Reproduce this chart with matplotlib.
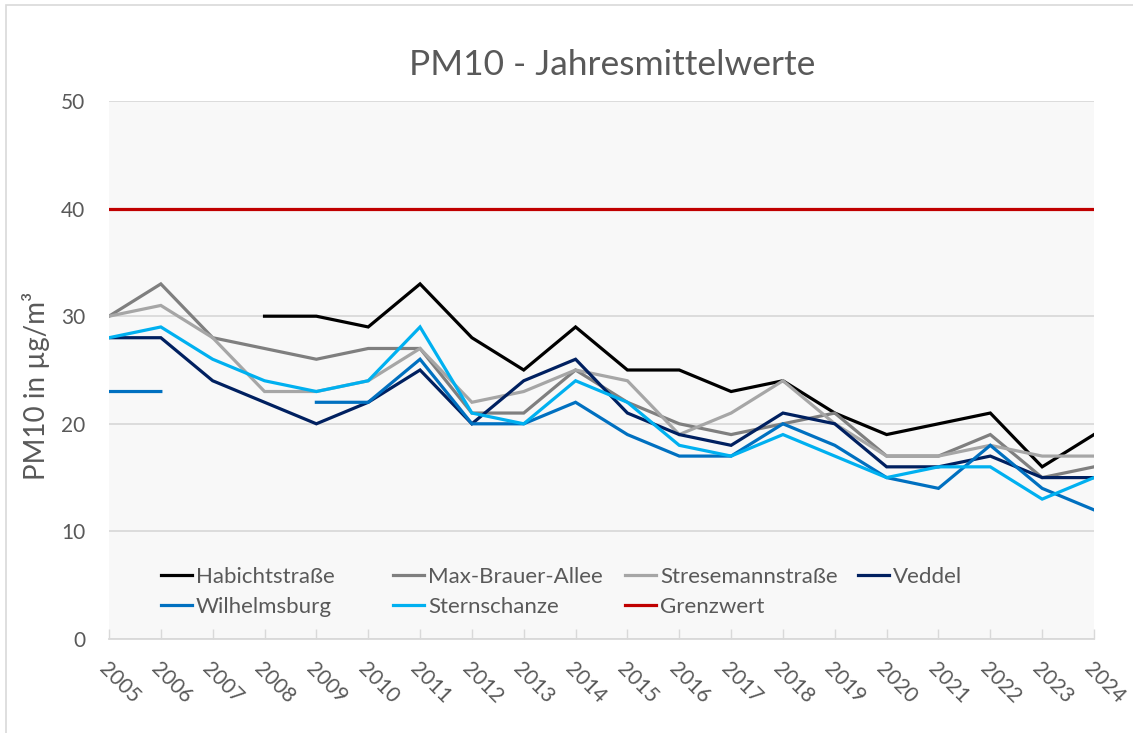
import matplotlib
matplotlib.use("Agg")
import matplotlib.pyplot as plt
import numpy as np
from matplotlib.legend import Legend
from matplotlib.patches import Rectangle

nan = np.nan

years = list(range(2005, 2025))
year_labels = [str(y) for y in years]

habicht = [nan, nan, nan, 30, 30, 29, 33, 28, 25, 29, 25, 25, 23, 24, 21, 19, 20, 21, 16, 19]
max_brauer = [30, 33, 28, 27, 26, 27, 27, 21, 21, 25, 22, 20, 19, 20, 21, 17, 17, 19, 15, 16]
stresemann = [30, 31, 28, 23, 23, 24, 27, 22, 23, 25, 24, 19, 21, 24, 20, 17, 17, 18, 17, 17]
veddel = [28, 28, 24, 22, 20, 22, 25, 20, 24, 26, 21, 19, 18, 21, 20, 16, 16, 17, 15, 15]
wilhelmsburg = [23, 23, nan, nan, 22, 22, 26, 20, 20, 22, 19, 17, 17, 20, 18, 15, 14, 18, 14, 12]
sternschanze = [28, 29, 26, 24, 23, 24, 29, 21, 20, 24, 22, 18, 17, 19, 17, 15, 16, 16, 13, 15]
grenzwert = [40] * len(years)

series = [
    ("Habichtstraße", habicht, "#000000"),
    ("Max-Brauer-Allee", max_brauer, "#7F7F7F"),
    ("Stresemannstraße", stresemann, "#A6A6A6"),
    ("Veddel", veddel, "#002060"),
    ("Wilhelmsburg", wilhelmsburg, "#0070C0"),
    ("Sternschanze", sternschanze, "#00B0F0"),
    ("Grenzwert", grenzwert, "#C00000"),
]

TEXT = "#595959"
GRID = "#D9D9D9"
W, H = 1133, 733

plt.rcParams["font.family"] = ["Lato", "DejaVu Sans"]

fig = plt.figure(figsize=(W / 100, H / 100), dpi=100)
fig.patch.set_facecolor("white")

# chart border (only left/top visible in the screenshot)
fig.patches.append(
    Rectangle((6 / W, -0.1), 1.2, 1.1 - 5 / H, transform=fig.transFigure,
              facecolor="none", edgecolor=GRID, linewidth=1.2)
)

left, right, top, bottom = 109, 1094, 101, 639
ax = fig.add_axes([left / W, 1 - bottom / H, (right - left) / W, (bottom - top) / H])
ax.set_facecolor("#F8F8F8")

lines = {}
for name, vals, col in series:
    (ln,) = ax.plot(years, vals, color=col, linewidth=2.3, label=name,
                    solid_joinstyle="miter", zorder=3)
    lines[name] = ln

ax.set_xlim(2005, 2024)
ax.set_ylim(0, 50)
ax.set_yticks([0, 10, 20, 30, 40, 50])
ax.grid(axis="y", color=GRID, linewidth=1.3, zorder=1)
ax.set_axisbelow(True)

for s in ["top", "right", "left"]:
    ax.spines[s].set_visible(False)
ax.spines["bottom"].set_color(GRID)
ax.spines["bottom"].set_linewidth(1.3)

ax.set_xticks(years)
ax.set_xticklabels(year_labels)
ax.tick_params(axis="x", direction="in", length=7, width=1, color=GRID,
               labelcolor=TEXT, labelsize=15, pad=14)
ax.tick_params(axis="y", length=0, labelcolor=TEXT, labelsize=15, pad=17)
for lab in ax.get_xticklabels():
    lab.set_rotation(-45)
    lab.set_ha("left")
    lab.set_va("top")
    lab.set_rotation_mode("anchor")

fig.text(612 / W, 1 - 65 / H, "PM10 - Jahresmittelwerte", ha="center", va="center",
         fontsize=25.5, color=TEXT)
fig.text(36 / W, 1 - 386 / H, "PM10 in µg/m³", ha="center", va="center",
         rotation=90, fontsize=20, color=TEXT)

# legend in four equally spaced columns, as in the original
columns = [
    ["Habichtstraße", "Wilhelmsburg"],
    ["Max-Brauer-Allee", "Sternschanze"],
    ["Stresemannstraße", "Grenzwert"],
    ["Veddel"],
]
col_x = [161, 393, 625, 858]
for names, cx in zip(columns, col_x):
    leg = Legend(
        ax,
        [lines[n] for n in names],
        names,
        loc="upper left",
        bbox_to_anchor=(cx / W, 1 - 567 / H),
        bbox_transform=fig.transFigure,
        frameon=False,
        fontsize=16,
        handlelength=1.4,
        handletextpad=0.18,
        labelspacing=0.45,
        borderpad=0,
        borderaxespad=0,
    )
    for t in leg.get_texts():
        t.set_color(TEXT)
    ax.add_artist(leg)

fig.savefig("out.png", dpi=100)
